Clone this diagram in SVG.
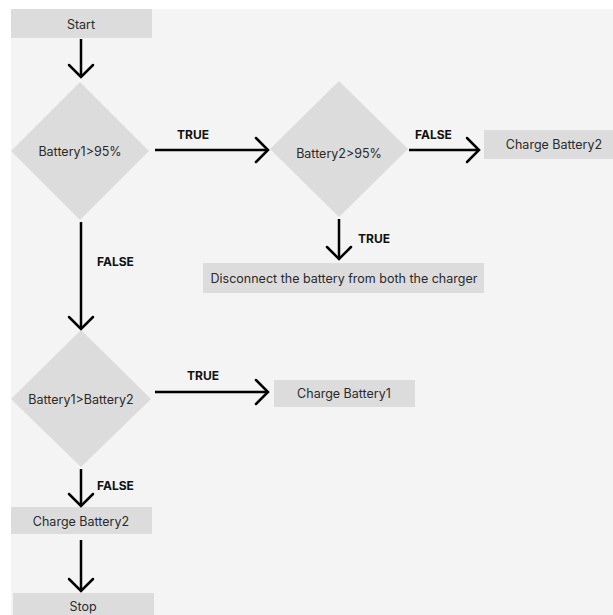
<svg xmlns="http://www.w3.org/2000/svg" width="613" height="615" viewBox="0 0 613 615">
<defs>
<style>
.box{fill:#dcdcdc}
.t{font-family:Inter,"Liberation Sans",sans-serif;font-size:12.5px;fill:#2a2a2a;text-anchor:middle;dominant-baseline:central}
.lb{font-family:Inter,"Liberation Sans",sans-serif;font-size:12px;font-weight:700;fill:#111}
.ln{stroke:#000;stroke-width:2.5;fill:none}
.hd{stroke:#000;stroke-width:2.5;fill:none;stroke-linecap:round;stroke-linejoin:miter}
</style>
</defs>
<rect x="0" y="0" width="613" height="615" fill="#ffffff"/>
<rect x="11" y="9" width="602" height="606" fill="#f4f4f4"/>
<g id="start"><rect class="box" x="11" y="9" width="141" height="29"/><text class="t" x="81" y="24">Start</text></g>
<g id="d1"><polygon class="box" points="80,82 149,151 80,220 11,151"/><text class="t" x="80" y="151">Battery1&gt;95%</text></g>
<g id="d2"><polygon class="box" points="339,81 408,149 339,217 270,149"/><text class="t" x="339" y="153">Battery2&gt;95%</text></g>
<g id="cb2r"><rect class="box" x="484" y="130" width="129" height="29"/><text class="t" x="554" y="144">Charge Battery2</text></g>
<g id="disc"><rect class="box" x="203" y="263" width="281" height="30"/><text class="t" x="344" y="278">Disconnect the battery from both the charger</text></g>
<g id="d3"><polygon class="box" points="81,330 151,399 81,467 11,399"/><text class="t" x="81" y="399">Battery1&gt;Battery2</text></g>
<g id="cb1"><rect class="box" x="274" y="380" width="141" height="27"/><text class="t" x="344" y="393">Charge Battery1</text></g>
<g id="cb2b"><rect class="box" x="11" y="507" width="141" height="27"/><text class="t" x="81" y="521">Charge Battery2</text></g>
<g id="stop"><rect class="box" x="13" y="593" width="141" height="22"/><text class="t" x="83" y="606">Stop</text></g>
<g id="connectors">
<path class="ln" d="M81,39 V77"/><path class="hd" d="M69,65 L81,77 L93,65"/>
<path class="ln" d="M155,150 H268"/><path class="hd" d="M256,138 L268,150 L256,162"/>
<text class="lb" x="177" y="139">TRUE</text>
<path class="ln" d="M409,150 H479"/><path class="hd" d="M467,138 L479,150 L467,162"/>
<text class="lb" x="415" y="139">FALSE</text>
<path class="ln" d="M339,219 V259"/><path class="hd" d="M327,247 L339,259 L351,247"/>
<text class="lb" x="358" y="243">TRUE</text>
<path class="ln" d="M81,222 V329"/><path class="hd" d="M69,317 L81,329 L93,317"/>
<text class="lb" x="97" y="266">FALSE</text>
<path class="ln" d="M155,392 H268"/><path class="hd" d="M256,380 L268,392 L256,404"/>
<text class="lb" x="187" y="380">TRUE</text>
<path class="ln" d="M81,469 V506"/><path class="hd" d="M69,494 L81,506 L93,494"/>
<text class="lb" x="97" y="490">FALSE</text>
<path class="ln" d="M81,540 V591"/><path class="hd" d="M69,579 L81,591 L93,579"/>
</g>
</svg>
